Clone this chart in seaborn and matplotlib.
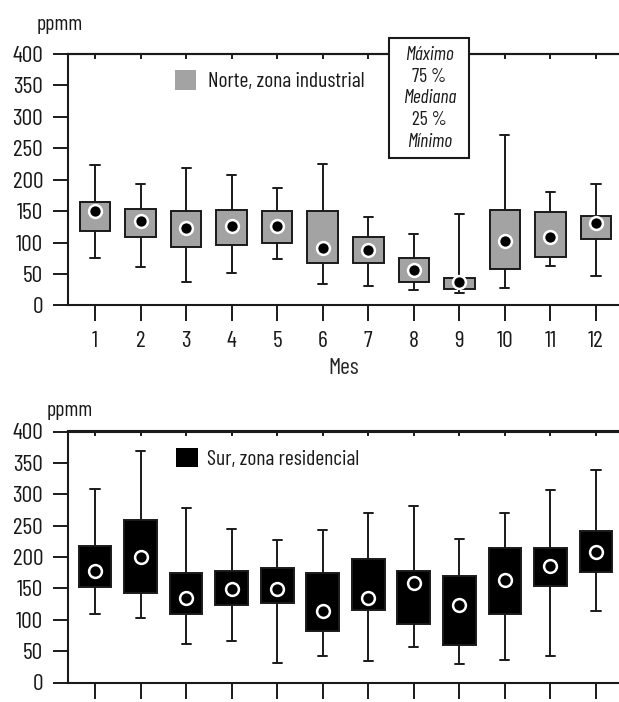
import numpy as np
import pandas as pd
import matplotlib
matplotlib.use("Agg")
import matplotlib.pyplot as plt
import seaborn as sns
from matplotlib.patches import Patch, Rectangle

# ---------------- data ----------------
months = [1, 2, 3, 4, 5, 6, 7, 8, 9, 10, 11, 12]
month_labels = ["1", "2", "3", "4", "5", "6", "7", "8", "9", "10", "11", "12"]

norte_min = [75, 62, 37, 51, 74, 34, 31, 25, 20, 28, 63, 47]
norte_q1 = [118, 109, 93, 97, 99, 68, 68, 37, 26, 58, 77, 105]
norte_med = [150, 135, 123, 126, 126, 91, 89, 57, 37, 103, 109, 132]
norte_q3 = [164, 153, 150, 152, 150, 150, 109, 76, 44, 152, 148, 143]
norte_max = [224, 194, 219, 208, 187, 225, 141, 113, 145, 271, 181, 193]

sur_min = [109, 103, 61, 66, 31, 42, 35, 57, 29, 36, 42, 114]
sur_q1 = [152, 142, 109, 123, 127, 82, 116, 93, 60, 109, 153, 176]
sur_med = [177, 200, 135, 149, 149, 114, 135, 158, 124, 163, 186, 208]
sur_q3 = [218, 259, 175, 178, 183, 175, 197, 178, 170, 215, 215, 242]
sur_max = [309, 369, 278, 245, 227, 243, 270, 281, 228, 270, 306, 339]

y_ticks = [0, 50, 100, 150, 200, 250, 300, 350, 400]
key_lines = ["Máximo", "75 %", "Mediana", "25 %", "Mínimo"]
key_italic = [True, False, True, False, True]

GRAY = "#a3a3a3"
LINE = "#1a1a1a"


def long_form(mins, q1, med, q3, maxs):
    rows = []
    for m, a, b, c, d, e in zip(months, mins, q1, med, q3, maxs):
        for v in (a, b, c, d, e):
            rows.append({"Mes": m, "ppmm": v})
    return pd.DataFrame(rows)


df_n = long_form(norte_min, norte_q1, norte_med, norte_q3, norte_max)
df_s = long_form(sur_min, sur_q1, sur_med, sur_q3, sur_max)

sns.set_theme(style="white")
plt.rcParams["font.family"] = ["Barlow Condensed", "Roboto Condensed", "DejaVu Sans"]
plt.rcParams["text.color"] = LINE
FS = 17

fig = plt.figure(figsize=(6.19, 7.02), dpi=100)
ax1 = fig.add_axes([68 / 619, 1 - 305.5 / 702, 551 / 619, 251.5 / 702])
ax2 = fig.add_axes([68 / 619, 1 - 682.5 / 702, 551 / 619, 251 / 702])


def draw(ax, df, med, face, width, dot_face, dot_edge):
    sns.boxplot(data=df, x="Mes", y="ppmm", native_scale=True, whis=(0, 100),
                width=width, color=face, saturation=1, linecolor=LINE,
                linewidth=1.4, fill=True, ax=ax,
                medianprops=dict(linewidth=0), capwidths=0.2)
    sns.scatterplot(x=months, y=med, ax=ax, s=85, color=dot_face,
                    edgecolor=dot_edge, linewidth=1.8, zorder=6, legend=False)
    ax.set_xlim(0.407, 12.505)
    ax.set_ylim(0, 400)
    ax.set_yticks(y_ticks)
    ax.set_yticklabels([str(v) for v in y_ticks], fontsize=FS)
    ax.set_xticks(months)
    ax.tick_params(axis="y", left=True, direction="out", length=11,
                   width=1.4, pad=7, colors=LINE)
    ax.tick_params(axis="x", bottom=True, direction="out", length=11.5,
                   width=1.4, pad=7, colors=LINE)
    for s in ("left", "top", "bottom"):
        ax.spines[s].set_visible(True)
        ax.spines[s].set_linewidth(1.5)
        ax.spines[s].set_color(LINE)
    ax.spines["right"].set_visible(False)
    ax.set_ylabel("")
    sec = ax.secondary_xaxis("top")
    sec.set_xticks(months)
    sec.tick_params(axis="x", direction="in", length=3.8, width=1.4,
                    labeltop=False, colors=LINE)
    sec.spines["top"].set_linewidth(1.5)
    sec.spines["top"].set_color(LINE)


draw(ax1, df_n, norte_med, GRAY, 0.67, "black", "white")
draw(ax2, df_s, sur_med, "black", 0.72, "black", "white")

ax1.set_xticklabels(month_labels, fontsize=FS)
ax1.set_xlabel("Mes", fontsize=17, labelpad=4)
ax2.set_xticklabels([])
ax2.set_xlabel("")

ax1.legend(handles=[Patch(facecolor=GRAY, edgecolor="none",
                          label="Norte, zona industrial")],
           loc="upper left", bbox_to_anchor=(0.194, 0.935), frameon=False,
           fontsize=15.5, handlelength=1.0, handleheight=1.0,
           handletextpad=0.55, borderpad=0, borderaxespad=0)
ax2.legend(handles=[Patch(facecolor="black", edgecolor="none",
                          label="Sur, zona residencial")],
           loc="upper left", bbox_to_anchor=(0.196, 0.935), frameon=False,
           fontsize=15.5, handlelength=1.0, handleheight=1.0,
           handletextpad=0.45, borderpad=0, borderaxespad=0)

fig.text(37 / 619, 1 - 24 / 702, "ppmm", fontsize=15.5, ha="left", va="center")
fig.text(47 / 619, 1 - 411 / 702, "ppmm", fontsize=15.5, ha="left", va="center")

# key box
fig.add_artist(Rectangle((389 / 619, 1 - 158 / 702), 80 / 619, 120 / 702,
                         transform=fig.transFigure, facecolor="white",
                         edgecolor=LINE, linewidth=1.5, zorder=10))
for i, (t, it) in enumerate(zip(key_lines, key_italic)):
    yc = 55 + i * 21.7
    fig.text(429.5 / 619, 1 - yc / 702, t, fontsize=14, ha="center",
             va="center", style="italic" if it else "normal", zorder=11)

fig.savefig("out.png", dpi=100)
